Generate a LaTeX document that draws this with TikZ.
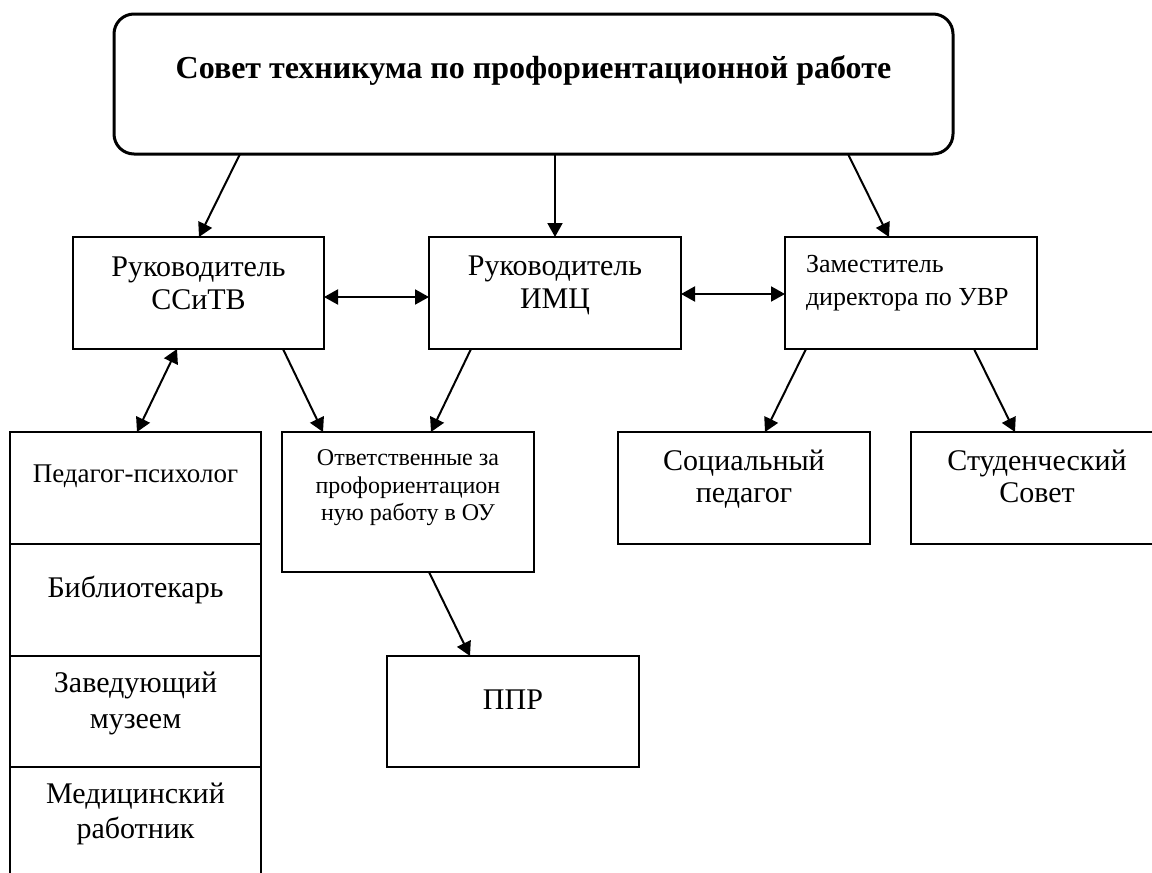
\documentclass[tikz,border=0pt]{standalone}
\usepackage{fontspec}
\setmainfont{Liberation Serif}
\usetikzlibrary{arrows.meta}
\begin{document}
\begin{tikzpicture}[x=1pt,y=-1pt,
  orgbox/.style={draw, rectangle, line width=2pt, outer sep=0pt, inner sep=0pt},
  txt/.style={anchor=base, inner sep=0pt, outer sep=0pt, font=\fontsize{30}{36}\selectfont},
  txtsmall/.style={txt, font=\fontsize{26}{31}\selectfont},
  txtmid/.style={txt, font=\fontsize{27}{32}\selectfont},
  txttiny/.style={txt, font=\fontsize{24}{28}\selectfont},
  ttl/.style={txt, font=\fontsize{32}{38}\selectfont\bfseries},
  arr/.style={line width=2pt, -{Triangle[length=14pt,width=15pt]}},
  darr/.style={line width=2pt, {Triangle[length=14pt,width=15pt]}-{Triangle[length=14pt,width=15pt]}}]
\useasboundingbox (0,0) rectangle (1152,873);
\clip (0,0) rectangle (1152,873);
% top
\node[draw, rectangle, rounded corners=20pt, line width=3pt, outer sep=0pt, inner sep=0pt,
  minimum width=839pt, minimum height=140pt] (T) at (533.5,84) {};
\node[ttl] (tT) at (533.5,78) {Совет техникума по профориентационной работе};
% level 2
\node[orgbox, minimum width=251pt, minimum height=112pt] (A) at (198.5,293) {};
\node[orgbox, minimum width=252pt, minimum height=112pt] (B) at (555,293) {};
\node[orgbox, minimum width=252pt, minimum height=112pt] (C) at (911,293) {};
\node[txt] (tA1) at (198.5,276) {Руководитель};
\node[txt] (tA2) at (198.5,309) {ССиТВ};
\node[txt] (tB1) at (555,275) {Руководитель};
\node[txt] (tB2) at (555,308) {ИМЦ};
\node[txtsmall, anchor=base west] (tC1) at (806,272) {Заместитель};
\node[txtsmall, anchor=base west] (tC2) at (806,305) {директора по УВР};
% column
\node[orgbox, minimum width=251pt, minimum height=112pt] (P1) at (135.5,488) {};
\node[orgbox, minimum width=251pt, minimum height=112pt] (P2) at (135.5,600) {};
\node[orgbox, minimum width=251pt, minimum height=111pt] (P3) at (135.5,711.5) {};
\node[orgbox, minimum width=251pt, minimum height=112pt] (P4) at (135.5,823) {};
\node[txtmid] (tP1) at (135.5,482) {Педагог-психолог};
\node[txt] (tP2) at (135.5,597) {Библиотекарь};
\node[txt] (tP3a) at (135.5,692) {Заведующий};
\node[txt] (tP3b) at (135.5,728) {музеем};
\node[txt] (tP4a) at (135.5,803) {Медицинский};
\node[txt] (tP4b) at (135.5,838) {работник};
% others
\node[orgbox, minimum width=252pt, minimum height=140pt] (D) at (408,502) {};
\node[txttiny] (tD1) at (408,465) {Ответственные за};
\node[txttiny] (tD2) at (408,493) {профориентацион};
\node[txttiny] (tD3) at (408,520) {ную работу в ОУ};
\node[orgbox, minimum width=252pt, minimum height=111pt] (E) at (513,711.5) {};
\node[txt] (tE) at (513,709) {ППР};
\node[orgbox, minimum width=252pt, minimum height=112pt] (F) at (744,488) {};
\node[txt] (tF1) at (744,470) {Социальный};
\node[txt] (tF2) at (744,502) {педагог};
\node[orgbox, minimum width=252pt, minimum height=112pt] (G) at (1037,488) {};
\node[txt] (tG1) at (1037,470) {Студенческий};
\node[txt] (tG2) at (1037,502) {Совет};
% arrows
\draw[arr] ([xshift=-293.5pt]T.south) -- ([xshift=0.5pt]A.north);
\draw[arr] ([xshift=21.5pt]T.south) -- ([xshift=0pt]B.north);
\draw[arr] ([xshift=314.5pt]T.south) -- ([xshift=-22pt]C.north);
\draw[darr] ([yshift=-4pt]A.east) -- ([yshift=-4pt]B.west);
\draw[darr] ([yshift=-1pt]B.east) -- ([yshift=-1pt]C.west);
\draw[darr] ([xshift=-21.5pt]A.south) -- ([xshift=1.5pt]P1.north);
\draw[arr] ([xshift=84.5pt]A.south) -- ([xshift=-85pt]D.north);
\draw[arr] ([xshift=-84pt]B.south) -- ([xshift=23pt]D.north);
\draw[arr] ([xshift=-105pt]C.south) -- ([xshift=21pt]F.north);
\draw[arr] ([xshift=63pt]C.south) -- ([xshift=-22pt]G.north);
\draw[arr] ([xshift=21pt]D.south) -- ([xshift=-43pt]E.north);
\end{tikzpicture}
\end{document}
